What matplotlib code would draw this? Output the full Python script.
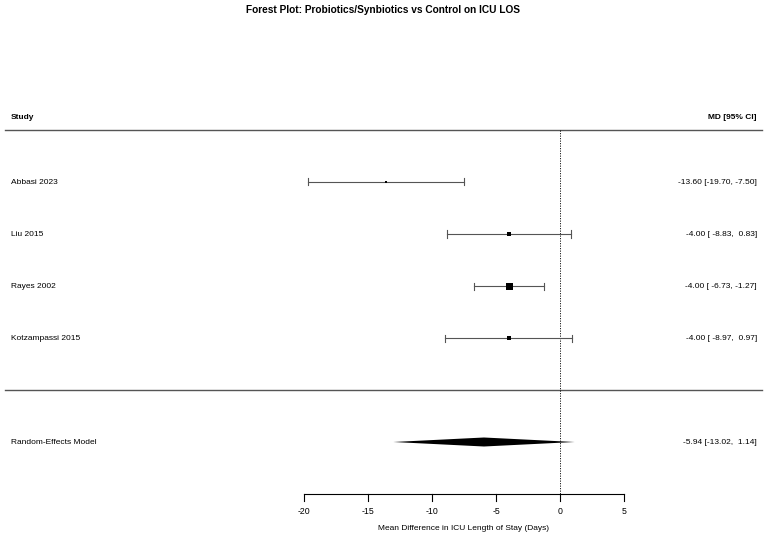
import numpy as np
import matplotlib.pyplot as plt

plt.rcParams['font.family'] = ['Liberation Sans', 'DejaVu Sans']

studies = ['Abbasi 2023', 'Liu 2015', 'Rayes 2002', 'Kotzampassi 2015']
md = [-13.60, -4.00, -4.00, -4.00]
ci_lo = [-19.70, -8.83, -6.73, -8.97]
ci_hi = [-7.50, 0.83, -1.27, 0.97]
box_px = [2.0, 4.0, 7.0, 4.0]          # square side in pixels

re_est, re_lo, re_hi = -5.94, -13.02, 1.14
xticks = [-20, -15, -10, -5, 0, 5]

fig = plt.figure(figsize=(7.67, 5.37), dpi=100)
ax = fig.add_axes([0, 0, 1, 1])
# 12.8 px per day, 0 at x=560 px; rows 52 px apart
ax.set_xlim(-560 / 12.8, (767 - 560) / 12.8)
ax.set_ylim(-1 - 95 / 52, 4 + 182 / 52)
ax.axis('off')

rows = np.arange(len(studies), 0, -1)
lc = '#555555'
fs = 6

ax.plot([-43.36, 15.78], [5, 5], color=lc, lw=1)
ax.plot([-43.36, 15.78], [0, 0], color=lc, lw=1)
ax.plot([0, 0], [5, -2], color='black', lw=0.6, ls=(0, (1.5, 1.5)))

cap = 3.5 / 52
for y, m, lo, hi, b, name in zip(rows, md, ci_lo, ci_hi, box_px, studies):
    ax.plot([lo, hi], [y, y], color=lc, lw=0.8)
    ax.plot([lo, lo], [y - cap, y + cap], color=lc, lw=0.8)
    ax.plot([hi, hi], [y - cap, y + cap], color=lc, lw=0.8)
    ax.plot(m, y, marker='s', ms=b * 0.72, color='black', mec='black', mew=0)
    ax.text(-42.9, y, name, fontsize=fs, va='center', ha='left')
    ax.text(15.39, y, f'{m:.2f} [{lo:6.2f}, {hi:5.2f}]',
            fontsize=fs, va='center', ha='right')

dh = 4.5 / 52
ax.fill([re_lo, re_est, re_hi, re_est], [-1, -1 + dh, -1, -1 - dh], color='black', lw=0)
ax.text(-42.9, -1, 'Random-Effects Model', fontsize=fs, va='center', ha='left')
ax.text(15.39, -1, f'{re_est:.2f} [{re_lo:.2f}, {re_hi:5.2f}]', fontsize=fs,
        va='center', ha='right')

ax.text(-42.9, 5 + 12 / 52, 'Study', fontsize=fs, fontweight='bold', va='center', ha='left')
ax.text(15.39, 5 + 12 / 52, 'MD [95% CI]', fontsize=fs, fontweight='bold',
        va='center', ha='right')

# x axis
ax.plot([xticks[0], xticks[-1]], [-2, -2], color='black', lw=0.8)
for t in xticks:
    ax.plot([t, t], [-2, -2 - 7 / 52], color='black', lw=0.8)
    ax.text(t, -2 - 17 / 52, str(t), fontsize=fs + 0.3, ha='center', va='center')
ax.text(-7.5, -2 - 34 / 52, 'Mean Difference in ICU Length of Stay (Days)',
        fontsize=fs, ha='center', va='center')

ax.text(-560 / 12.8 + 383.5 / 12.8, 4 + 172 / 52,
        'Forest Plot: Probiotics/Synbiotics vs Control on ICU LOS',
        fontsize=7.3, fontweight='bold', ha='center', va='center')

fig.savefig('out.png', dpi=100)
